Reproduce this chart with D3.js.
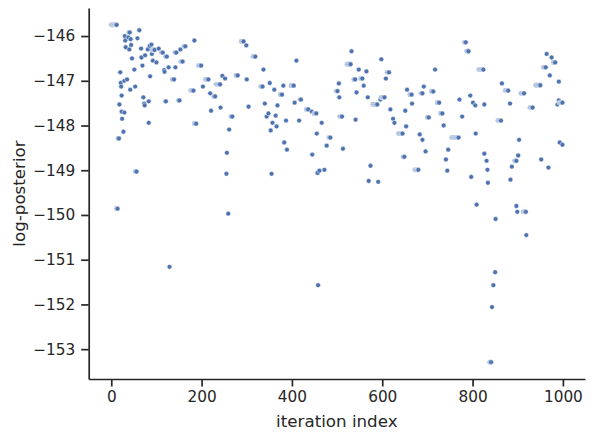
<!DOCTYPE html>
<html>
<head>
<meta charset="utf-8">
<script src="https://cdn.jsdelivr.net/npm/d3@7"></script>
<style>
  body { margin: 0; background: #fff; }
  text { font-family: "DejaVu Sans", sans-serif; fill: #262626; }
</style>
</head>
<body>
<svg id="chart" width="594" height="441"></svg>
<script>
// MCMC trace: each entry is a run of repeated values
// (first iteration, last iteration, log-posterior)
var runStart = [0, 62, 39, 30, 38, 43, 31, 58, 184, 44, 89, 85, 161, 32, 40, 66, 81, 91, 105, 111,
  141, 153, 90, 75, 67, 100, 92, 120, 46, 154, 193, 69, 127, 142, 117, 118, 51, 20, 86, 135,
  209, 35, 29, 21, 22, 53, 42, 176, 203, 232, 219, 227, 23, 71, 83, 73, 74, 120, 149, 242,
  18, 29, 23, 221, 24, 83, 184, 27, 15, 53, 12, 259, 129, 458,
  288, 299, 314, 410, 337, 246, 252, 276, 300, 351, 331, 361, 374, 381, 398, 340, 368, 304, 348, 344,
  364, 357, 366, 353, 265, 261, 387, 416, 383, 389, 256, 255, 355, 445, 455, 466, 504, 498, 505, 418,
  406, 432, 444, 449, 482, 477, 472, 461, 456, 506,
  532, 522, 598, 548, 565, 611, 537, 552, 608, 717, 559, 543, 568, 598, 596, 579, 655, 661, 692, 686,
  709, 722, 771, 666, 618, 651, 508, 541, 624, 627, 653, 700, 729, 736, 636, 683, 689, 754, 513, 746,
  696, 646, 741, 574, 672, 744, 570, 591,
  782, 787, 814, 964, 975, 979, 957, 971, 991, 865, 940, 872, 907, 795, 801, 806, 826, 883, 927, 991,
  992, 988, 777, 856, 807, 903, 993, 999, 826, 831, 833, 901, 893, 887, 952, 968, 797, 834, 884, 809,
  897, 899, 912, 851, 919, 850, 846, 843, 838];
var runEnd = [12, 62, 41, 30, 38, 43, 31, 58, 184, 44, 89, 85, 164, 32, 40, 66, 81, 96, 105, 114,
  144, 153, 90, 75, 67, 100, 92, 123, 46, 158, 199, 69, 127, 142, 117, 118, 51, 20, 86, 139,
  215, 35, 29, 21, 22, 53, 42, 182, 203, 241, 219, 230, 23, 71, 83, 73, 74, 121, 151, 242,
  18, 29, 23, 221, 24, 83, 188, 27, 17, 56, 14, 259, 129, 458,
  293, 299, 319, 410, 337, 246, 252, 280, 300, 351, 335, 361, 378, 381, 404, 340, 368, 304, 348, 344,
  364, 357, 366, 353, 268, 261, 387, 416, 383, 389, 256, 255, 355, 445, 455, 466, 504, 501, 505, 420,
  406, 436, 444, 454, 485, 477, 472, 461, 457, 506,
  532, 530, 598, 548, 565, 615, 540, 556, 608, 717, 559, 543, 568, 605, 596, 589, 655, 665, 692, 689,
  713, 726, 771, 666, 618, 651, 511, 541, 624, 627, 653, 703, 733, 736, 645, 683, 689, 769, 513, 746,
  696, 649, 741, 574, 680, 744, 570, 591,
  785, 791, 824, 964, 975, 983, 962, 971, 991, 865, 950, 879, 914, 795, 801, 806, 826, 883, 933, 991,
  999, 988, 777, 863, 807, 903, 993, 999, 826, 831, 833, 901, 897, 887, 952, 968, 797, 834, 884, 809,
  897, 899, 918, 851, 919, 850, 846, 843, 841];
var runValue = [-145.75, -145.87, -145.92, -146.0, -146.03, -146.07, -146.1, -146.05, -146.1, -146.2,
  -146.19, -146.22, -146.23, -146.25, -146.3, -146.28, -146.3, -146.31, -146.28, -146.37,
  -146.37, -146.3, -146.4, -146.43, -146.48, -146.59, -146.55, -146.46, -146.5, -146.57,
  -146.66, -146.66, -146.7, -146.7, -146.76, -146.8, -146.75, -146.81, -146.9, -146.97,
  -146.97, -146.97, -147.0, -147.05, -147.13, -147.13, -147.2, -147.22, -147.13, -147.08,
  -147.28, -147.35, -147.33, -147.37, -147.46, -147.51, -147.55, -147.46, -147.44, -147.6,
  -147.53, -147.71, -147.69, -147.67, -147.85, -147.94, -147.96, -148.14, -148.29, -149.03,
  -149.86, -149.97, -151.16, -151.57,
  -146.12, -146.21, -146.46, -146.55, -146.75, -146.89, -146.95, -146.88, -146.97, -147.05,
  -147.13, -147.2, -147.31, -147.11, -147.11, -147.51, -147.55, -147.58, -147.73, -147.8,
  -147.78, -147.94, -148.02, -148.11, -147.8, -148.09, -147.89, -147.89, -148.38, -148.54,
  -148.61, -149.08, -149.08, -148.65, -148.18, -147.94, -147.06, -147.23, -147.37, -147.42,
  -147.49, -147.64, -147.69, -147.73, -148.27, -148.45, -148.99, -149.01, -149.06, -147.8,
  -146.34, -146.63, -146.52, -146.75, -146.79, -146.81, -146.97, -146.95, -146.95, -146.75,
  -147.11, -147.26, -147.37, -147.37, -147.42, -147.53, -147.2, -147.31, -147.13, -147.28,
  -147.24, -147.49, -147.42, -147.51, -147.64, -147.67, -147.8, -147.87, -147.85, -147.94,
  -148.02, -147.82, -147.73, -148.0, -148.18, -148.2, -148.32, -148.27, -148.52, -148.54,
  -148.58, -148.7, -148.76, -148.9, -148.99, -149.01, -149.24, -149.26,
  -146.14, -146.34, -146.75, -146.4, -146.48, -146.59, -146.7, -146.88, -147.02, -147.06,
  -147.1, -147.22, -147.28, -147.33, -147.49, -147.55, -147.53, -147.51, -147.6, -147.44,
  -147.49, -147.53, -147.8, -147.89, -148.18, -148.32, -148.38, -148.43, -148.63, -148.79,
  -148.99, -148.67, -148.79, -148.92, -148.76, -148.94, -149.15, -149.28, -149.21, -149.77,
  -149.8, -149.93, -149.93, -150.09, -150.45, -151.28, -151.57, -152.06, -153.29];

var xTicks = [0, 200, 400, 600, 800, 1000];
var yTicks = [-153, -152, -151, -150, -149, -148, -147, -146];

// expand runs to one point per iteration, drawn in iteration order
var points = [];
runStart.forEach(function (s, k) {
  for (var i = s; i <= runEnd[k]; i++) points.push({ iter: i, value: runValue[k] });
});
points.sort(function (a, b) { return a.iter - b.iter; });

var svg = d3.select("#chart");
var mLeft = 88.7, mRight = 585, mTop = 8, mBottom = 379;

// matplotlib style 5% margins
var xr = [0, 999], yr = d3.extent(points, function (d) { return d.value; });
var xpad = (xr[1] - xr[0]) * 0.05, ypad = (yr[1] - yr[0]) * 0.05;
var x = d3.scaleLinear().domain([xr[0] - xpad, xr[1] + xpad]).range([mLeft, mRight]);
var y = d3.scaleLinear().domain([yr[0] - ypad, yr[1] + ypad]).range([mBottom, mTop]);

svg.append("g")
  .selectAll("circle")
  .data(points)
  .enter().append("circle")
  .attr("cx", function (d) { return x(d.iter); })
  .attr("cy", function (d) { return y(d.value); })
  .attr("r", 2.4)
  .attr("fill", "#4c72b0")
  .attr("stroke", "white")
  .attr("stroke-opacity", 0.6)
  .attr("stroke-width", 0.8);

var xAxis = svg.append("g")
  .attr("transform", "translate(0," + mBottom + ")")
  .call(d3.axisBottom(x).tickValues(xTicks).tickFormat(d3.format("d")).tickSize(7.5).tickSizeOuter(0).tickPadding(5));
var yAxis = svg.append("g")
  .attr("transform", "translate(" + mLeft + ",0)")
  .call(d3.axisLeft(y).tickValues(yTicks).tickFormat(d3.format("d")).tickSize(7.5).tickSizeOuter(0).tickPadding(6));

[xAxis, yAxis].forEach(function (a) {
  a.selectAll("path, line").attr("stroke", "#262626").attr("stroke-width", 1.7);
  a.selectAll("text").style("font-size", "15.3px").attr("fill", "#262626");
});

svg.append("text")
  .attr("x", (mLeft + mRight) / 2)
  .attr("y", 427)
  .attr("text-anchor", "middle")
  .style("font-size", "16.7px")
  .text("iteration index");

svg.append("text")
  .attr("transform", "translate(25," + (mTop + mBottom) / 2 + ") rotate(-90)")
  .attr("text-anchor", "middle")
  .style("font-size", "16.7px")
  .text("log-posterior");
</script>
</body>
</html>
